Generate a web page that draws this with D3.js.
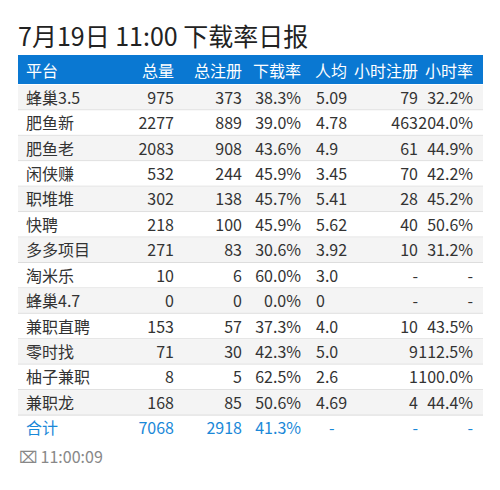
<!DOCTYPE html><html><head><meta charset="utf-8"><script src="https://cdn.jsdelivr.net/npm/d3@7"></script>
<style>body{margin:0;background:#fff}</style></head><body><svg id="c" width="500" height="490"></svg><script>
const headers=["平台","总量","总注册","下载率","人均","小时注册","小时率"];
const platforms=["蜂巢3.5","肥鱼新","肥鱼老","闲侠赚","职堆堆","快聘","多多项目","淘米乐","蜂巢4.7","兼职直聘","零时找","柚子兼职","兼职龙"];
const totals=["975","2277","2083","532","302","218","271","10","0","153","71","8","168"];
const regs=["373","889","908","244","138","100","83","6","0","57","30","5","85"];
const rates=["38.3%","39.0%","43.6%","45.9%","45.7%","45.9%","30.6%","60.0%","0.0%","37.3%","42.3%","62.5%","50.6%"];
const avgs=["5.09","4.78","4.9","3.45","5.41","5.62","3.92","3.0","0","4.0","5.0","2.6","4.69"];
const hourRegs=["79","463","61","70","28","40","10","-","-","10","9","1","4"];
const hourRates=["32.2%","204.0%","44.9%","42.2%","45.2%","50.6%","31.2%","-","-","43.5%","112.5%","100.0%","44.4%"];
const totalRow=["合计","7068","2918","41.3%","-","-","-"];
const svg=d3.select("#c"),F="'Noto Sans CJK SC','Noto Sans',sans-serif";
const colX=[26,174,242,301,316,418,473],anc=["start","end","end","end","start","end","end"];
const y=d3.scaleBand().domain(d3.range(14)).range([85,441]);
svg.append("text").attr("x",18).attr("y",46).attr("font-family",F).attr("font-size",25).attr("fill","#222").text("7月19日 11:00 下载率日报");
svg.append("rect").attr("x",18).attr("y",55).attr("width",465).attr("height",29).attr("fill","#0a78d2");
headers.forEach((h,i)=>svg.append("text").attr("x",i==4?315:colX[i]).attr("y",77).attr("text-anchor",anc[i]).attr("font-family",F).attr("font-size",16).attr("fill","#fff").text(h));
const rows=platforms.map((p,i)=>[p,totals[i],regs[i],rates[i],avgs[i],hourRegs[i],hourRates[i]]);
rows.forEach((r,i)=>{
 const g=svg.append("g");
 g.append("rect").attr("x",18).attr("y",y(i)).attr("width",465).attr("height",y.bandwidth()).attr("fill",i%2==0?"#f4f4f4":"#fff");
 g.append("line").attr("x1",18).attr("x2",483).attr("y1",y(i)+y.bandwidth()-0.5).attr("y2",y(i)+y.bandwidth()-0.5).attr("stroke","#ddd");
 r.forEach((v,j)=>g.append("text").attr("x",colX[j]).attr("y",y(i)+y.bandwidth()/2+6).attr("text-anchor",anc[j]).attr("font-family",F).attr("font-size",16).attr("fill","#333").text(v));
});
totalRow.forEach((v,j)=>svg.append("text").attr("x",colX[j]+(j==4?13:0)).attr("y",y(13)+y.bandwidth()/2+6).attr("text-anchor",anc[j]).attr("font-family",F).attr("font-size",16).attr("fill","#1a88d8").text(v));
svg.append("text").attr("x",19).attr("y",463).attr("font-family",F).attr("font-size",16).attr("fill","#888").text("⌧ 11:00:09");
</script></body></html>
